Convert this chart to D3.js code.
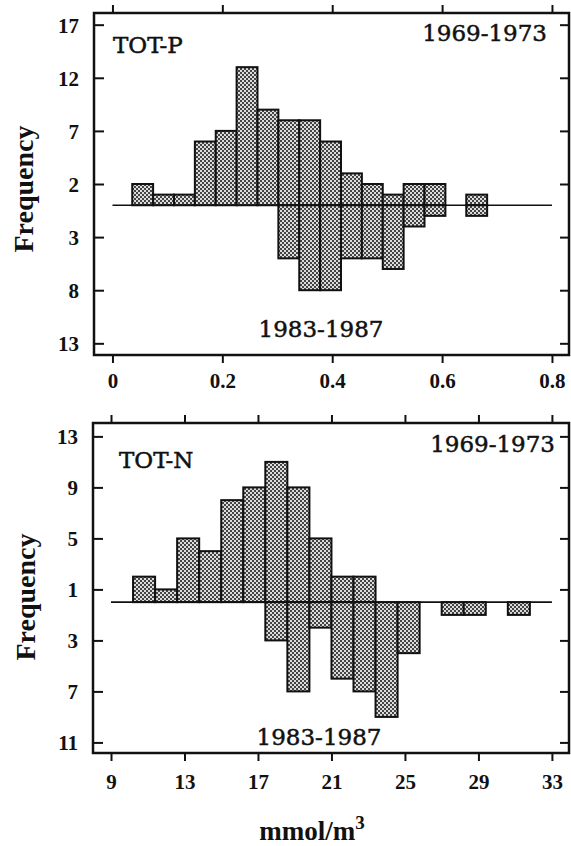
<!DOCTYPE html>
<html>
<head>
<meta charset="utf-8">
<script src="https://cdn.jsdelivr.net/npm/d3@7"></script>
<style>
  html, body { margin: 0; padding: 0; background: #fff; }
  svg { display: block; }
</style>
</head>
<body>
<script>
// ---------- DATA ----------
// TOT-P panel (mmol/m3), bin left edges and bin width
const totPBinEdges = [0.036, 0.074, 0.112, 0.150, 0.188, 0.226, 0.264, 0.302, 0.340,
                      0.378, 0.416, 0.454, 0.492, 0.530, 0.568, 0.606, 0.644];
const totPBinWidth = 0.038;
const totPEarly = [2, 1, 1, 6, 7, 13, 9, 8, 8, 6, 3, 2, 1, 2, 2, 0, 1];   // 1969-1973 (up)
const totPLate  = [0, 0, 0, 0, 0, 0, 0, 5, 8, 8, 5, 5, 6, 2, 1, 0, 1];    // 1983-1987 (down)
const totPXTicks = [0, 0.2, 0.4, 0.6, 0.8];
const totPXTickLabels = ["0", "0.2", "0.4", "0.6", "0.8"];
const totPYTicks = [17, 12, 7, 2, -3, -8, -13];

// TOT-N panel
const totNBinEdges = [10.2, 11.4, 12.6, 13.8, 15.0, 16.2, 17.4, 18.6, 19.8,
                      21.0, 22.2, 23.4, 24.6, 25.8, 27.0, 28.2, 29.4, 30.6];
const totNBinWidth = 1.2;
const totNEarly = [2, 1, 5, 4, 8, 9, 11, 9, 5, 2, 2, 0, 0, 0, 0, 0, 0, 0];
const totNLate  = [0, 0, 0, 0, 0, 0, 3, 7, 2, 6, 7, 9, 4, 0, 1, 1, 0, 1];
const totNXTicks = [9, 13, 17, 21, 25, 29, 33];
const totNXTickLabels = ["9", "13", "17", "21", "25", "29", "33"];
const totNYTicks = [13, 9, 5, 1, -3, -7, -11];

const labelEarly = "1969-1973";
const labelLate = "1983-1987";

// ---------- DRAWING ----------
const W = 571, H = 846;
const svg = d3.select("body").append("svg").attr("width", W).attr("height", H);

const defs = svg.append("defs");
const pat = defs.append("pattern").attr("id", "hatch")
  .attr("patternUnits", "userSpaceOnUse").attr("width", 4).attr("height", 4);
pat.append("rect").attr("width", 4).attr("height", 4).attr("fill", "#dcdcdc");
pat.append("rect").attr("x", 0).attr("y", 0).attr("width", 2).attr("height", 2).attr("fill", "#444");
pat.append("rect").attr("x", 2).attr("y", 2).attr("width", 2).attr("height", 2).attr("fill", "#444");

const FONT = "'Liberation Serif', 'Times New Roman', serif";
const FONT_ANN = "'DejaVu Serif', serif";

function drawPanel(cfg) {
  const x = d3.scaleLinear().domain(cfg.xDomain).range([cfg.left, cfg.right]);
  const y = d3.scaleLinear().domain(cfg.yDomain).range([cfg.bottom, cfg.top]);
  const g = svg.append("g");

  // bars up (early period)
  g.selectAll("rect.up").data(cfg.edges.map((e, i) => ({e, v: cfg.early[i]})).filter(d => d.v > 0))
    .join("rect").attr("class", "up")
    .attr("x", d => x(d.e)).attr("width", d => x(d.e + cfg.bw) - x(d.e))
    .attr("y", d => y(d.v)).attr("height", d => y(0) - y(d.v))
    .attr("fill", "url(#hatch)").attr("stroke", "#111").attr("stroke-width", 2);
  // bars down (late period)
  g.selectAll("rect.down").data(cfg.edges.map((e, i) => ({e, v: cfg.late[i]})).filter(d => d.v > 0))
    .join("rect").attr("class", "down")
    .attr("x", d => x(d.e)).attr("width", d => x(d.e + cfg.bw) - x(d.e))
    .attr("y", y(0)).attr("height", d => y(-d.v) - y(0))
    .attr("fill", "url(#hatch)").attr("stroke", "#111").attr("stroke-width", 2);

  // zero line
  g.append("line")
    .attr("x1", x(cfg.xTicks[0])).attr("x2", x(cfg.xTicks[cfg.xTicks.length - 1]))
    .attr("y1", y(0)).attr("y2", y(0))
    .attr("stroke", "#111").attr("stroke-width", 1.6);

  // axes
  const fmt = (d, i) => cfg.xLabels[i];
  const bAxis = g.append("g").attr("transform", `translate(0,${cfg.bottom})`)
    .call(d3.axisBottom(x).tickValues(cfg.xTicks).tickFormat(fmt).tickSizeInner(8).tickSizeOuter(0));
  bAxis.selectAll("text").attr("y", cfg.xLabelOffset).attr("dy", 0);
  const tAxis = g.append("g").attr("transform", `translate(0,${cfg.top})`)
    .call(d3.axisTop(x).tickValues(cfg.xTicks).tickFormat("").tickSizeInner(8).tickSizeOuter(0));
  const lAxis = g.append("g").attr("transform", `translate(${cfg.left},0)`)
    .call(d3.axisLeft(y).tickValues(cfg.yTicks).tickFormat(d => Math.abs(d)).tickSizeInner(-10).tickSizeOuter(0).tickPadding(15));
  lAxis.selectAll("text").attr("dy", "0.36em");
  const rAxis = g.append("g").attr("transform", `translate(${cfg.right},0)`)
    .call(d3.axisRight(y).tickValues(cfg.yTicks).tickFormat("").tickSizeInner(-9).tickSizeOuter(0));

  [bAxis, tAxis, lAxis, rAxis].forEach(a => {
    a.select(".domain").remove();
    a.selectAll("line").attr("stroke", "#111").attr("stroke-width", 2);
    a.selectAll("text").attr("font-family", FONT).attr("font-weight", "bold")
      .attr("font-size", 21).attr("fill", "#111");
  });

  // frame
  g.append("rect").attr("x", cfg.left).attr("y", cfg.top)
    .attr("width", cfg.right - cfg.left).attr("height", cfg.bottom - cfg.top)
    .attr("fill", "none").attr("stroke", "#111").attr("stroke-width", 2.5);

  // annotations
  const ann = (txt, tx, ty, anchor) => g.append("text").text(txt)
    .attr("x", tx).attr("y", ty).attr("text-anchor", anchor)
    .attr("font-family", FONT_ANN).attr("font-size", 23).attr("fill", "#111")
    .attr("stroke", "#111").attr("stroke-width", 0.5);
  ann(cfg.name, cfg.nameX, cfg.nameY, "start");
  ann(labelEarly, cfg.earlyX, cfg.earlyY, "end");
  ann(labelLate, cfg.lateX, cfg.lateY, "middle");

  // y title
  g.append("text").text("Frequency")
    .attr("transform", `translate(${cfg.yTitleX},${cfg.yTitleY}) rotate(-90)`)
    .attr("text-anchor", "middle")
    .attr("font-family", FONT).attr("font-weight", "bold").attr("font-size", 28).attr("fill", "#111");
}

drawPanel({
  name: "TOT-P", edges: totPBinEdges, bw: totPBinWidth, early: totPEarly, late: totPLate,
  xTicks: totPXTicks, xLabels: totPXTickLabels, yTicks: totPYTicks,
  xDomain: [-0.0336, 0.831], yDomain: [-14.1, 18.1],
  left: 94, right: 569, top: 13, bottom: 355, xLabelOffset: 33,
  nameX: 113, nameY: 53, earlyX: 547, earlyY: 41, lateX: 321, lateY: 337,
  yTitleX: 33, yTitleY: 189
});

drawPanel({
  name: "TOT-N", edges: totNBinEdges, bw: totNBinWidth, early: totNEarly, late: totNLate,
  xTicks: totNXTicks, xLabels: totNXTickLabels, yTicks: totNYTicks,
  xDomain: [8.02, 33.93], yDomain: [-11.83, 14.05],
  left: 93, right: 569, top: 423, bottom: 753, xLabelOffset: 36,
  nameX: 119, nameY: 468, earlyX: 555, earlyY: 452, lateX: 319, lateY: 745,
  yTitleX: 35, yTitleY: 597
});

// x title
const xt = svg.append("text").attr("x", 312).attr("y", 840).attr("text-anchor", "middle")
  .attr("font-family", FONT).attr("font-weight", "bold").attr("font-size", 27).attr("fill", "#111");
xt.append("tspan").text("mmol/m");
xt.append("tspan").text("3").attr("dy", -11).attr("font-size", 19);
</script>
</body>
</html>
